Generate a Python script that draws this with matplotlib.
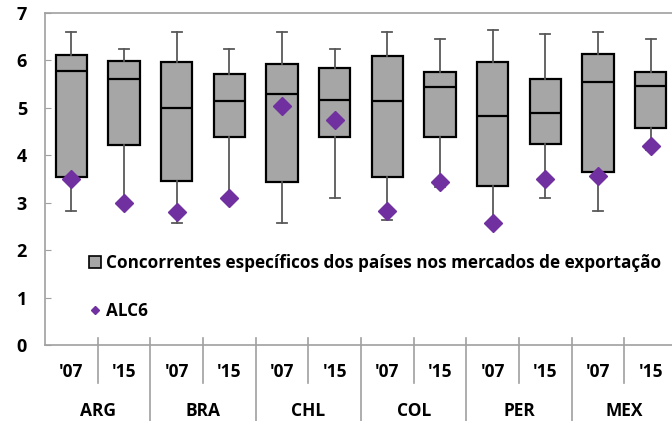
import matplotlib.pyplot as plt
from matplotlib.patches import Patch
from matplotlib.lines import Line2D

plt.rcParams['font.family'] = ['Open Sans', 'DejaVu Sans']
plt.rcParams['font.weight'] = 'bold'

countries = ['ARG', 'BRA', 'CHL', 'COL', 'PER', 'MEX']
years = ["'07", "'15"]

# box statistics per slot (country x year)
whisk_lo = [2.83, 2.97, 2.58, 3.05, 2.58, 3.10, 2.63, 3.34, 2.57, 3.10, 2.83, 4.12]
q1       = [3.55, 4.21, 3.46, 4.39, 3.43, 4.39, 3.54, 4.39, 3.36, 4.24, 3.64, 4.57]
median   = [5.78, 5.60, 5.00, 5.15, 5.29, 5.17, 5.14, 5.43, 4.82, 4.89, 5.54, 5.46]
q3       = [6.11, 5.99, 5.96, 5.72, 5.93, 5.85, 6.10, 5.75, 5.96, 5.60, 6.14, 5.75]
whisk_hi = [6.60, 6.24, 6.60, 6.24, 6.60, 6.24, 6.60, 6.45, 6.64, 6.56, 6.60, 6.45]
alc6     = [3.50, 3.00, 2.81, 3.10, 5.03, 4.75, 2.82, 3.43, 2.57, 3.49, 3.57, 4.20]

fig = plt.figure(figsize=(6.72, 4.21), dpi=100)
ax = fig.add_axes([45 / 672, (421 - 345) / 421, 632 / 672, 332 / 421])

stats = []
for i in range(len(median)):
    stats.append({'whislo': whisk_lo[i], 'q1': q1[i], 'med': median[i],
                  'q3': q3[i], 'whishi': whisk_hi[i], 'fliers': []})

pos = list(range(len(median)))
ax.bxp(stats, positions=pos, widths=0.59, patch_artist=True, showfliers=False,
       boxprops=dict(facecolor='#A6A6A6', edgecolor='black', linewidth=1.6),
       medianprops=dict(color='black', linewidth=1.6),
       whiskerprops=dict(color='#595959', linewidth=1.3),
       capprops=dict(color='#595959', linewidth=1.3),
       capwidths=0.19)
ax.plot(pos, alc6, ls='', marker='D', color='#7030A0', markersize=9.5, zorder=5)

ax.set_xlim(-0.5, 11.5)
ax.set_ylim(0, 7)
ax.set_yticks(range(8))
ax.tick_params(axis='y', direction='in', length=4, color='#A0A0A0', labelsize=13, pad=13)
ax.set_xticks([])
for s in ['top', 'left', 'bottom']:
    ax.spines[s].set_color('#A0A0A0')
    ax.spines[s].set_linewidth(1.2)
ax.spines['right'].set_visible(False)

tr = ax.get_xaxis_transform()
for i in range(len(median)):
    ax.text(i, -0.081, years[i % 2], transform=tr, ha='center', va='center',
            fontsize=12.5, fontweight='bold')
for g, c in enumerate(countries):
    ax.text(2 * g + 0.5, -0.199, c, transform=tr, ha='center', va='center',
            fontsize=12.5, fontweight='bold')
for k in range(1, 13):
    x = k - 0.5
    y0 = -0.229 if k % 2 == 0 else -0.114
    ax.plot([x, x], [0.021, y0], transform=tr, color='#A0A0A0', lw=1.2, clip_on=False)

handles = [Patch(facecolor='#A6A6A6', edgecolor='black', linewidth=1.2),
           Line2D([], [], ls='', marker='D', color='#7030A0', markersize=4)]
labels = ['Concorrentes específicos dos países nos mercados de exportação', 'ALC6']
leg = ax.legend(handles, labels, loc='upper left', bbox_to_anchor=(0.045, 0.32), frameon=False,
                prop={'size': 12.3, 'weight': 'bold'}, labelspacing=1.75, handlelength=0.7,
                handleheight=0.7, handletextpad=0.3)

fig.savefig('out.png', dpi=100)
